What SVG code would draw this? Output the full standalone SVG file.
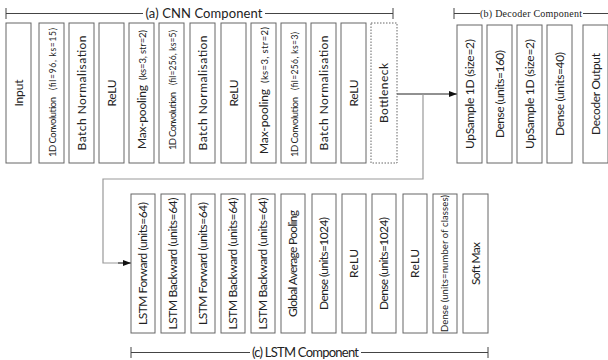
<svg xmlns="http://www.w3.org/2000/svg" width="608" height="360" viewBox="0 0 608 360">
<defs>
<style>
.box{fill:#fff;stroke:#666;stroke-width:1}
.dash{fill:#fff;stroke:#666;stroke-width:1;stroke-dasharray:1.5 1.5}
.t{font-family:Lato,"Open Sans",sans-serif;font-size:12px;fill:#222;text-anchor:middle}
.l{text-anchor:start}
.s{font-size:9.5px}
.m{font-size:9.5px}
.p{font-size:8.5px}
.br{stroke:#444;stroke-width:1;fill:none}
.ttl{font-family:Lato,"Open Sans",sans-serif;font-size:13px;fill:#222;text-anchor:middle}
.ttls{font-family:"Liberation Serif",serif;font-size:10px;fill:#222;text-anchor:middle}
.c{stroke:#222;stroke-width:1;fill:none}
.g{stroke:#999;stroke-width:1.2;fill:none}
</style>
<marker id="ah" viewBox="0 0 8 6" refX="8" refY="3" markerWidth="8" markerHeight="6" markerUnits="userSpaceOnUse" orient="auto">
<path d="M0,0 L8,3 L0,6 z" fill="#111"/>
</marker>
</defs>

<g id="brackets">
<path class="br" d="M6,8 V19 M6,13.5 H143 M265,13.5 H393 M393,8 V19"/>
<text class="ttl" x="204" y="18" textLength="117">(a) CNN Component</text>
<path class="br" d="M454,8 V19 M454,13.5 H480 M583,13.5 H608"/>
<text class="ttls" x="531" y="17" textLength="102">(b) Decoder Component</text>
<path class="br" d="M131,347 V358 M131,352.5 H250 M361,352.5 H488 M488,347 V358"/>
<text class="ttl" x="305.5" y="357" textLength="107">(c) LSTM Component</text>
</g>

<g id="connectors">
<path class="c" d="M397,94 H457" marker-end="url(#ah)"/>
<path class="g" d="M423,94 V179 H103 V263 H124"/>
<path class="c" d="M118,263 H131" marker-end="url(#ah)"/>
</g>

<g id="input"><rect class="box" x="6" y="23" width="25" height="140"/><text class="t" transform="translate(18.5,93) rotate(-90)" dy="0.35em" textLength="27">Input</text></g>
<g id="conv1"><rect class="box" x="39" y="23" width="25" height="140"/><text class="t l" transform="translate(51.5,157) rotate(-90)" dy="0.35em"><tspan class="m" x="0" textLength="60">1D Convolution</tspan><tspan class="p" x="67" textLength="62">(fil=96, ks=15)</tspan></text></g>
<g id="bn1"><rect class="box" x="69" y="23" width="25" height="140"/><text class="t" transform="translate(81.5,93) rotate(-90)" dy="0.35em" textLength="115">Batch Normalisation</text></g>
<g id="relu1"><rect class="box" x="99" y="23" width="25" height="140"/><text class="t" transform="translate(111.5,93) rotate(-90)" dy="0.35em" textLength="27">ReLU</text></g>
<g id="pool1"><rect class="box" x="129" y="23" width="25" height="140"/><text class="t l" transform="translate(141.5,149) rotate(-90)" dy="0.35em"><tspan x="0" textLength="64">Max-pooling</tspan><tspan class="s" x="69" textLength="50">(ks=3, str=2)</tspan></text></g>
<g id="conv2"><rect class="box" x="159" y="23" width="25" height="140"/><text class="t l" transform="translate(171.5,150) rotate(-90)" dy="0.35em"><tspan class="m" x="0" textLength="58">1D Convolution</tspan><tspan class="p" x="65" textLength="55">(fil=256, ks=5)</tspan></text></g>
<g id="bn2"><rect class="box" x="190" y="23" width="25" height="140"/><text class="t" transform="translate(202.5,93) rotate(-90)" dy="0.35em" textLength="115">Batch Normalisation</text></g>
<g id="relu2"><rect class="box" x="221" y="23" width="25" height="140"/><text class="t" transform="translate(233.5,93) rotate(-90)" dy="0.35em" textLength="27">ReLU</text></g>
<g id="pool2"><rect class="box" x="251" y="23" width="25" height="140"/><text class="t l" transform="translate(263.5,154) rotate(-90)" dy="0.35em"><tspan x="0" textLength="65">Max-pooling</tspan><tspan class="s" x="71" textLength="56">(ks=3, str=2)</tspan></text></g>
<g id="conv3"><rect class="box" x="281" y="23" width="25" height="140"/><text class="t l" transform="translate(293.5,157) rotate(-90)" dy="0.35em"><tspan class="m" x="0" textLength="60">1D Convolution</tspan><tspan class="p" x="67" textLength="58">(fil=256, ks=3)</tspan></text></g>
<g id="bn3"><rect class="box" x="311" y="23" width="25" height="140"/><text class="t" transform="translate(323.5,93) rotate(-90)" dy="0.35em" textLength="115">Batch Normalisation</text></g>
<g id="relu3"><rect class="box" x="341" y="23" width="25" height="140"/><text class="t" transform="translate(353.5,93) rotate(-90)" dy="0.35em" textLength="27">ReLU</text></g>
<g id="bottleneck"><rect class="dash" x="371" y="23" width="26" height="140"/><text class="t" transform="translate(384,93) rotate(-90)" dy="0.35em" textLength="60">Bottleneck</text></g>

<g id="up1"><rect class="box" x="457" y="25" width="25" height="138"/><text class="t" transform="translate(469.5,94) rotate(-90)" dy="0.35em" textLength="110">UpSample 1D (size=2)</text></g>
<g id="dense160"><rect class="box" x="487" y="25" width="25" height="138"/><text class="t" transform="translate(499.5,94) rotate(-90)" dy="0.35em" textLength="88">Dense (units=160)</text></g>
<g id="up2"><rect class="box" x="517" y="25" width="25" height="138"/><text class="t" transform="translate(529.5,94) rotate(-90)" dy="0.35em" textLength="110">UpSample 1D (size=2)</text></g>
<g id="dense40"><rect class="box" x="547" y="25" width="25" height="138"/><text class="t" transform="translate(559.5,94) rotate(-90)" dy="0.35em" textLength="84">Dense (units=40)</text></g>
<g id="decout"><rect class="box" x="583" y="25" width="25" height="138"/><text class="t" transform="translate(595.5,94) rotate(-90)" dy="0.35em" textLength="82">Decoder Output</text></g>

<g id="lstmf1"><rect class="box" x="131" y="194" width="24" height="139"/><text class="t" transform="translate(143,263.5) rotate(-90)" dy="0.35em" textLength="123">LSTM Forward (units=64)</text></g>
<g id="lstmb1"><rect class="box" x="161" y="194" width="24" height="139"/><text class="t" transform="translate(173,263.5) rotate(-90)" dy="0.35em" textLength="132">LSTM Backward (units=64)</text></g>
<g id="lstmf2"><rect class="box" x="191" y="194" width="24" height="139"/><text class="t" transform="translate(203,263.5) rotate(-90)" dy="0.35em" textLength="123">LSTM Forward (units=64)</text></g>
<g id="lstmb2"><rect class="box" x="221" y="194" width="24" height="139"/><text class="t" transform="translate(233,263.5) rotate(-90)" dy="0.35em" textLength="132">LSTM Backward (units=64)</text></g>
<g id="lstmb3"><rect class="box" x="251" y="194" width="24" height="139"/><text class="t" transform="translate(263,263.5) rotate(-90)" dy="0.35em" textLength="132">LSTM Backward (units=64)</text></g>
<g id="gap"><rect class="box" x="281" y="194" width="24" height="139"/><text class="t" transform="translate(293,263.5) rotate(-90)" dy="0.35em" textLength="107">Global Average Pooling</text></g>
<g id="dense1024a"><rect class="box" x="312" y="194" width="24" height="139"/><text class="t" transform="translate(324,263.5) rotate(-90)" dy="0.35em" textLength="93">Dense (units=1024)</text></g>
<g id="relu4"><rect class="box" x="342" y="194" width="24" height="139"/><text class="t" transform="translate(354,263.5) rotate(-90)" dy="0.35em" textLength="29">ReLU</text></g>
<g id="dense1024b"><rect class="box" x="372" y="194" width="24" height="139"/><text class="t" transform="translate(384,263.5) rotate(-90)" dy="0.35em" textLength="93">Dense (units=1024)</text></g>
<g id="relu5"><rect class="box" x="403" y="194" width="24" height="139"/><text class="t" transform="translate(415,263.5) rotate(-90)" dy="0.35em" textLength="29">ReLU</text></g>
<g id="densecls"><rect class="box" x="433" y="194" width="24" height="139"/><text class="t s" transform="translate(445,263.5) rotate(-90)" dy="0.35em" textLength="137">Dense (units=number of classes)</text></g>
<g id="softmax"><rect class="box" x="463" y="194" width="25" height="139"/><text class="t" transform="translate(475.5,263.5) rotate(-90)" dy="0.35em" textLength="43">Soft Max</text></g>
</svg>
